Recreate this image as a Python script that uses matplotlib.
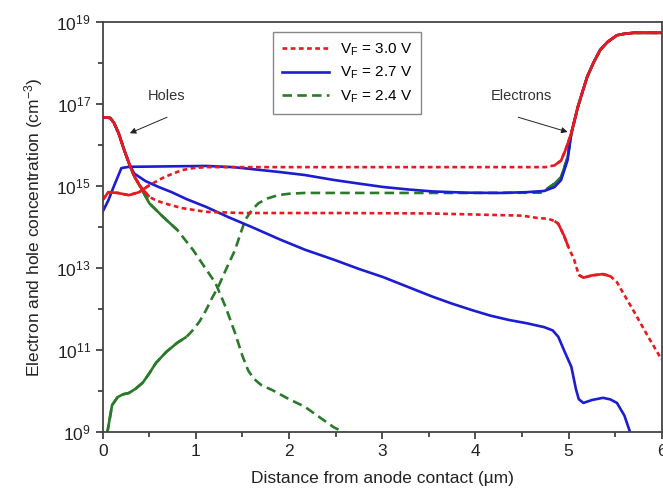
import numpy as np
import matplotlib
matplotlib.use("Agg")
import matplotlib.pyplot as plt
from matplotlib.ticker import FixedLocator, FuncFormatter

plt.rcParams["font.family"] = ["Liberation Sans", "DejaVu Sans"]
plt.rcParams["mathtext.fontset"] = "custom"
plt.rcParams["mathtext.rm"] = "Liberation Sans"
plt.rcParams["mathtext.it"] = "Liberation Sans"

# x in um, concentration in cm^-3
x_h30 = [0, 0.08, 0.12, 0.17, 0.23, 0.29, 0.34, 0.40, 0.5, 0.58, 0.66, 0.85, 1.11, 1.5, 2.5, 3.5, 4.5,
         4.68, 4.78, 4.85, 4.89, 4.95, 5.0, 5.06, 5.11, 5.16, 5.25, 5.37, 5.45, 5.52, 5.58, 5.7, 5.85, 6.0]
p_30 = [4.8e16, 4.6e16, 3.5e16, 1.95e16, 7.6e15, 3.2e15, 1.7e15, 1.0e15, 5.4e14, 4.4e14, 3.8e14, 2.9e14,
        2.35e14, 2.2e14, 2.2e14, 2.15e14, 1.9e14, 1.65e14, 1.6e14, 1.4e14, 1.2e14, 6.3e13, 3.2e13,
        1.6e13, 6.8e12, 5.8e12, 6.6e12, 7.1e12, 6.3e12, 4.5e12, 2.6e12, 8.9e11, 2.2e11, 5.8e10]
x_e30 = [0, 0.06, 0.16, 0.28, 0.39, 0.5, 0.58, 0.66, 0.75, 0.85, 0.97, 1.11, 2.5, 4.0, 4.75, 4.85, 4.92,
         4.97, 5.03, 5.07, 5.1, 5.15, 5.2, 5.27, 5.34, 5.42, 5.52, 5.6, 5.7, 6.0]
n_30 = [4.6e14, 7.1e14, 6.8e14, 6.0e14, 7.1e14, 1.05e15, 1.32e15, 1.65e15, 2.0e15, 2.45e15, 2.75e15,
        2.9e15, 2.9e15, 2.9e15, 2.9e15, 3.2e15, 4.2e15, 7.9e15, 1.95e16, 4.5e16, 8.5e16, 2.0e17,
        4.6e17, 1.05e18, 2.1e18, 3.3e18, 4.8e18, 5.2e18, 5.5e18, 5.5e18]

x_h27 = [0, 0.08, 0.12, 0.17, 0.23, 0.29, 0.34, 0.46, 0.6, 0.74, 0.9, 1.11, 1.35, 1.6, 1.9, 2.17, 2.48,
         2.75, 3.01, 3.27, 3.54, 3.75, 3.97, 4.16, 4.36, 4.55, 4.74, 4.83, 4.89, 4.96, 5.03, 5.08, 5.11,
         5.16, 5.25, 5.37, 5.45, 5.52, 5.6, 5.66, 5.75]
p_27 = [4.8e16, 4.6e16, 3.5e16, 1.95e16, 7.6e15, 3.2e15, 2.0e15, 1.32e15, 9.5e14, 7.1e14, 4.8e14,
        3.1e14, 1.74e14, 1.0e14, 5.0e13, 2.8e13, 1.6e13, 9.5e12, 6.0e12, 3.5e12, 2.0e12, 1.35e12,
        9.3e11, 6.9e11, 5.4e11, 4.5e11, 3.6e11, 3.0e11, 2.1e11, 8.9e10, 3.9e10, 1.1e10, 6.3e9,
        5.1e9, 6.0e9, 6.8e9, 6.2e9, 5.1e9, 2.5e9, 1.0e9, 4.0e8]
x_e27 = [0, 0.06, 0.12, 0.2, 0.28, 1.11, 1.4, 1.6, 1.9, 2.17, 2.48, 2.75, 3.01, 3.27, 3.54, 3.9, 4.27,
         4.55, 4.74, 4.85, 4.92, 4.99, 5.03, 5.07, 5.1, 5.15, 5.2, 5.27, 5.34, 5.42, 5.52, 5.6, 5.7, 6.0]
n_27 = [2.4e14, 4.5e14, 1.0e15, 2.75e15, 2.95e15, 3.1e15, 2.9e15, 2.6e15, 2.2e15, 1.86e15, 1.41e15,
        1.15e15, 9.5e14, 8.3e14, 7.4e14, 6.9e14, 6.8e14, 7.1e14, 7.6e14, 9.5e14, 1.4e15, 4.3e15,
        1.95e16, 4.5e16, 8.5e16, 2.0e17, 4.6e17, 1.05e18, 2.1e18, 3.3e18, 4.8e18, 5.2e18, 5.5e18,
        5.5e18]

x_h24 = [0, 0.08, 0.12, 0.17, 0.23, 0.29, 0.34, 0.40, 0.5, 0.65, 0.8, 0.97, 1.1, 1.21, 1.32, 1.42,
         1.5, 1.56, 1.62, 1.7, 1.82, 2.0, 2.17, 2.35, 2.48, 2.62, 2.8]
p_24 = [4.8e16, 4.6e16, 3.5e16, 1.95e16, 7.6e15, 3.2e15, 1.7e15, 1.0e15, 3.8e14, 1.75e14, 8.5e13,
        2.75e13, 1.0e13, 4.3e12, 1.1e12, 2.6e11, 7.1e10, 3.2e10, 2.0e10, 1.4e10, 1.05e10, 6.3e9,
        4.1e9, 2.1e9, 1.3e9, 8.9e8, 5.0e8]
x_e24 = [0, 0.05, 0.1, 0.16, 0.22, 0.28, 0.35, 0.43, 0.5, 0.57, 0.68, 0.8, 0.9, 0.97, 1.04, 1.11,
         1.17, 1.24, 1.33, 1.42, 1.48, 1.53, 1.6, 1.67, 1.77, 1.88, 2.0, 2.17, 3.0, 4.0, 4.7, 4.78,
         4.85, 4.92, 4.99, 5.03, 5.07, 5.1, 5.15, 5.2, 5.27, 5.34, 5.42, 5.52, 5.6, 5.7, 6.0]
n_24 = [4.0e8, 1.0e9, 4.5e9, 7.1e9, 8.3e9, 8.9e9, 1.12e10, 1.6e10, 2.7e10, 4.8e10, 8.9e10, 1.5e11,
        2.1e11, 3.1e11, 5.0e11, 9.5e11, 1.8e12, 3.5e12, 1.0e13, 2.75e13, 7.1e13, 1.5e14, 2.6e14,
        3.8e14, 5.0e14, 6.0e14, 6.5e14, 6.8e14, 6.8e14, 6.8e14, 6.9e14, 8.9e14, 1.15e15, 1.65e15,
        5.0e15, 1.95e16, 4.5e16, 8.5e16, 2.0e17, 4.6e17, 1.05e18, 2.1e18, 3.3e18, 4.8e18, 5.2e18,
        5.5e18, 5.5e18]

labels = ["$\\mathregular{V_F}$ = 3.0 V", "$\\mathregular{V_F}$ = 2.7 V", "$\\mathregular{V_F}$ = 2.4 V"]

red, blue, green = "#e8191f", "#1c1cd2", "#2a7a2a"
lw = 1.9


def draw(ax, x, y, color, dashes, solid=(), label=None):
    x = np.asarray(x)
    y = np.asarray(y)
    if dashes is None:
        ax.plot(x, y, color=color, lw=lw, label=label)
        return
    ax.plot(x, y, color=color, lw=lw, dashes=dashes, label=label)
    # dense parts of the original curves render solid
    for a, b in solid:
        m = (x >= a) & (x <= b)
        ax.plot(x[m], y[m], color=color, lw=lw, solid_capstyle="butt")


fig, ax = plt.subplots(figsize=(6.63, 5.04), dpi=100)
fig.subplots_adjust(left=0.155, right=0.998, top=0.956, bottom=0.143)

draw(ax, x_h24, p_24, green, (3.6, 2.0), solid=[(0, 0.85)])
draw(ax, x_e24, n_24, green, (3.6, 2.0), solid=[(0, 0.9), (4.78, 6)], label=labels[2])
draw(ax, x_h27, p_27, blue, None)
draw(ax, x_e27, n_27, blue, None, label=labels[1])
draw(ax, x_h30, p_30, red, (1.8, 1.3), solid=[(0, 0.55), (4.85, 5.02), (5.1, 5.5)])
draw(ax, x_e30, n_30, red, (1.8, 1.3), solid=[(0, 0.5), (4.85, 6)], label=labels[0])

ax.set_yscale("log")
ax.set_xlim(0, 6)
ax.set_ylim(1e9, 1e19)

ax.xaxis.set_major_locator(FixedLocator([0, 1, 2, 3, 4, 5, 6]))
ax.xaxis.set_minor_locator(FixedLocator([0.5, 1.5, 2.5, 3.5, 4.5, 5.5]))
ax.yaxis.set_major_locator(FixedLocator([1e9, 1e11, 1e13, 1e15, 1e17, 1e19]))
ax.yaxis.set_minor_locator(FixedLocator([1e10, 1e12, 1e14, 1e16, 1e18]))
ax.yaxis.set_major_formatter(FuncFormatter(lambda v, p: "$\\mathregular{10^{%d}}$" % round(np.log10(v))))
ax.yaxis.set_minor_formatter(FuncFormatter(lambda v, p: ""))

ax.tick_params(which="both", direction="out", colors="#333333", labelcolor="#222222",
               labelsize=12.5, top=False, right=False)
ax.tick_params(which="major", length=5, width=1.2)
ax.tick_params(which="minor", length=3.5, width=1.2)
for s in ax.spines.values():
    s.set_color("#444444")
    s.set_linewidth(1.3)

ax.set_xlabel("Distance from anode contact (\u00b5m)", fontsize=12.5, color="#222222", labelpad=9)
ax.set_ylabel("Electron and hole concentration (cm$\\mathregular{^{-3}}$)", fontsize=12.5,
              color="#222222", labelpad=8)

h, l = ax.get_legend_handles_labels()
order = [l.index(s) for s in labels]
leg = ax.legend([h[i] for i in order], [l[i] for i in order], loc="upper left",
                bbox_to_anchor=(0.304, 0.975), fontsize=11, frameon=True, fancybox=False,
                edgecolor="#888888", framealpha=1, handlelength=3.1, handletextpad=0.7,
                borderpad=0.6, labelspacing=0.45, borderaxespad=0)
leg.get_frame().set_linewidth(1.0)

arrow = dict(arrowstyle="-|>", color="#222222", lw=0.7, mutation_scale=9, shrinkA=0, shrinkB=0)
ax.text(0.69, 10 ** 17.2, "Holes", fontsize=10.5, color="#333333", ha="center", va="center")
ax.annotate("", xy=(0.29, 10 ** 16.29), xytext=(0.69, 10 ** 16.68), arrowprops=arrow)
ax.text(4.49, 10 ** 17.2, "Electrons", fontsize=10.5, color="#333333", ha="center", va="center")
ax.annotate("", xy=(4.99, 10 ** 16.32), xytext=(4.46, 10 ** 16.68), arrowprops=arrow)

fig.savefig("out.png", dpi=100)
